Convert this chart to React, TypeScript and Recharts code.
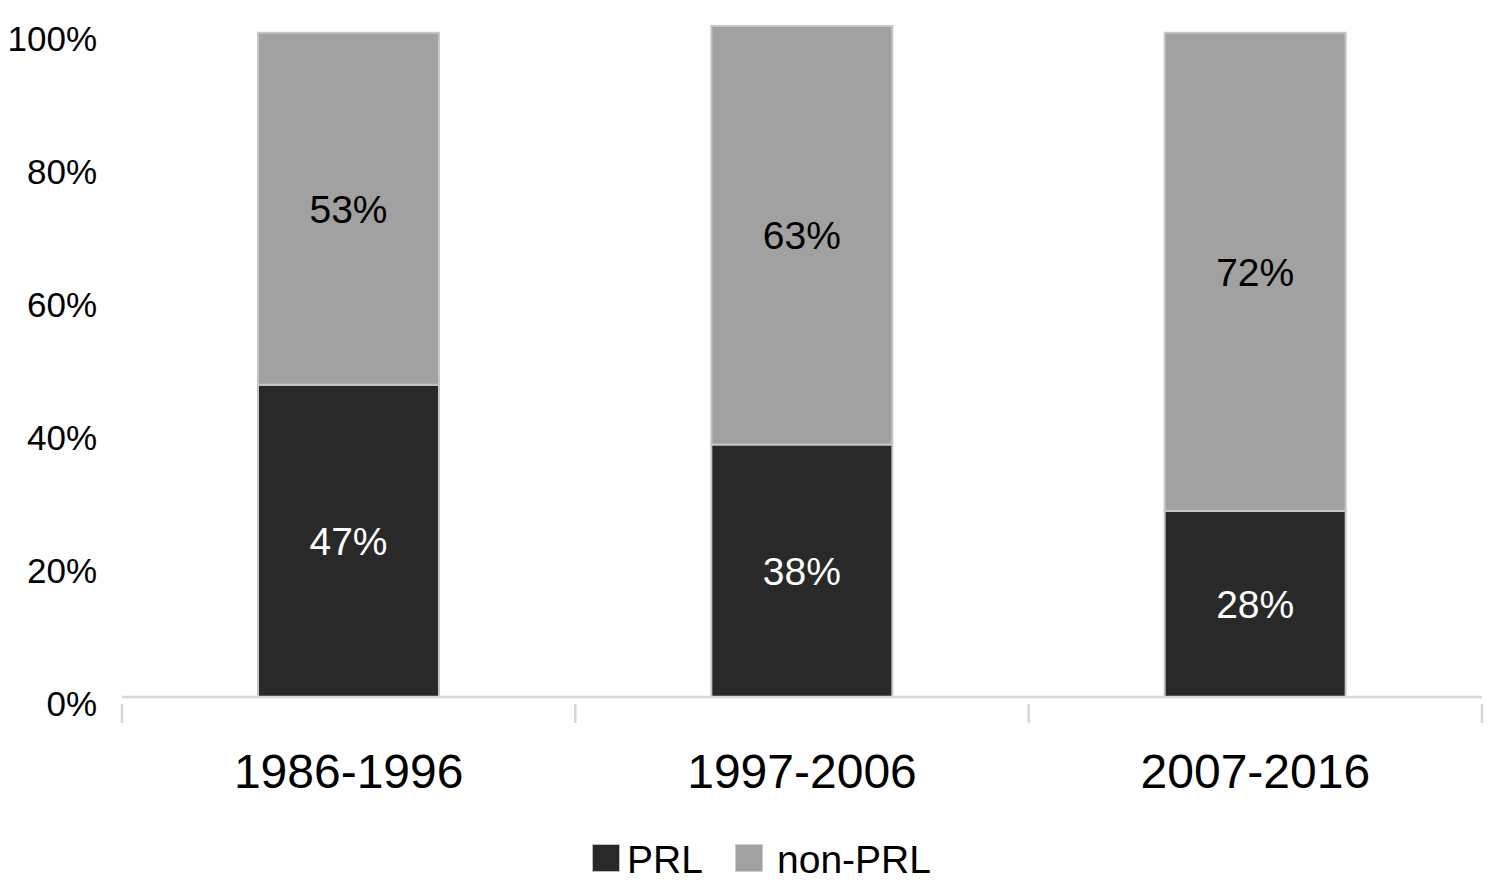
import React from "react";
import { BarChart, Bar, XAxis, YAxis, Legend, LabelList } from "recharts";

const categories = ["1986-1996", "1997-2006", "2007-2016"];
const prlValues = [47, 38, 28];
const nonPrlValues = [53, 63, 72];
const yTicks = [0, 20, 40, 60, 80, 100];

const data = categories.map((c, i) => ({ period: c, PRL: prlValues[i], nonPRL: nonPrlValues[i] }));

const W = 1500;
const H = 890;
const MARGIN = { top: 26, right: 18, left: 0, bottom: 0 };
const Y_W = 122;
const PLOT_W = W - MARGIN.left - MARGIN.right - Y_W;
const BAND = PLOT_W / categories.length;
const FONT = "'Liberation Sans', Arial, sans-serif";
const DARK = "#292929";
const GRAY = "#a1a1a1";
const EDGE = "#c6c6c6";
const AXIS = "#d6d6d6";

const XTick = (props: any) => {
  const { x, y, payload, index } = props;
  const left = x - BAND / 2;
  const right = x + BAND / 2;
  return (
    <g>
      <line x1={left} y1={y - 1} x2={left} y2={y + 18} stroke={AXIS} strokeWidth={2.5} />
      {index === categories.length - 1 && (
        <line x1={right} y1={y - 1} x2={right} y2={y + 18} stroke={AXIS} strokeWidth={2.5} />
      )}
      <text x={x} y={y + 66} textAnchor="middle" dominantBaseline="central" fontSize={48} fill="#000" fontFamily={FONT}>
        {payload.value}
      </text>
    </g>
  );
};

const YTick = (props: any) => {
  const { y, payload } = props;
  return (
    <text x={97} y={y + 6} textAnchor="end" dominantBaseline="central" fontSize={35} fill="#000" fontFamily={FONT}>
      {payload.value}%
    </text>
  );
};

const LegendContent = () => (
  <div style={{ position: "relative", width: W, height: 63, fontFamily: FONT, fontSize: 39, color: "#000" }}>
    <div style={{ position: "absolute", left: 592, top: 17, width: 26, height: 26, background: DARK, border: "1px solid #bbb" }} />
    <div style={{ position: "absolute", left: 627, top: 10, lineHeight: "45px" }}>PRL</div>
    <div style={{ position: "absolute", left: 735, top: 17, width: 26, height: 26, background: GRAY, border: "1px solid #ccc" }} />
    <div style={{ position: "absolute", left: 777, top: 10, lineHeight: "45px" }}>non-PRL</div>
  </div>
);

export default function App() {
  return (
    <div style={{ position: "absolute", left: 0, top: 0, width: W, height: H, background: "#fff" }}>
      <BarChart width={W} height={H} data={data} margin={MARGIN} barCategoryGap="30%">
        <XAxis
          dataKey="period"
          height={130}
          axisLine={{ stroke: AXIS, strokeWidth: 2.5 }}
          tickLine={false}
          tick={<XTick />}
          interval={0}
        />
        <YAxis
          width={Y_W}
          domain={[0, 101]}
          ticks={yTicks}
          axisLine={false}
          tickLine={false}
          tick={<YTick />}
          interval={0}
        />
        <Legend verticalAlign="bottom" height={63} content={<LegendContent />} />
        <Bar dataKey="PRL" stackId="a" fill={DARK} stroke={EDGE} strokeWidth={2} isAnimationActive={false}>
          <LabelList dataKey="PRL" position="center" formatter={(v: any) => `${v}%`} fill="#fff" fontSize={39} fontFamily={FONT} />
        </Bar>
        <Bar dataKey="nonPRL" stackId="a" fill={GRAY} stroke={EDGE} strokeWidth={2} isAnimationActive={false}>
          <LabelList dataKey="nonPRL" position="center" formatter={(v: any) => `${v}%`} fill="#000" fontSize={39} fontFamily={FONT} />
        </Bar>
      </BarChart>
    </div>
  );
}
